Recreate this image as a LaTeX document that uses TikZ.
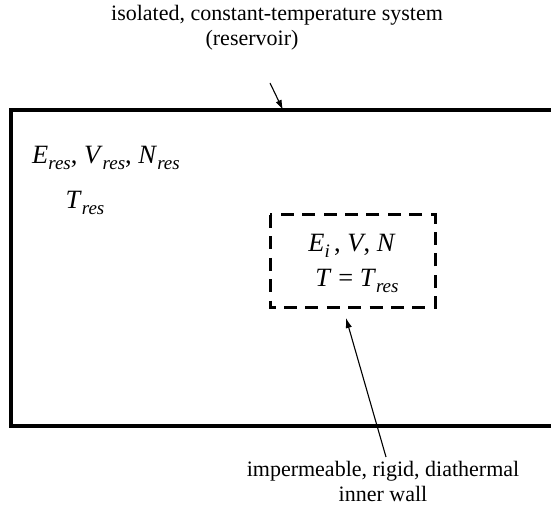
\documentclass[tikz,border=0pt]{standalone}
\usepackage{fontspec}
\setmainfont{Liberation Serif}
\usetikzlibrary{arrows.meta,positioning}
\newcommand{\qty}[2]{\textit{#1}\raisebox{-0.55ex}{\fontsize{9.5}{10}\selectfont\textit{#2}}}

\begin{document}
\begin{tikzpicture}[x=0.5pt, y=-0.5pt, >={Latex[length=5pt,width=3.2pt]}, font=\fontsize{11}{12}\selectfont,
  wall/.style={line width=1.8pt, line join=miter},
  inner/.style={line width=1.5pt, dash pattern=on 6.5pt off 4.2pt},
  lbl/.style={align=center, inner sep=0pt},
  sym/.style={lbl, font=\fontsize{13.2}{14}\selectfont},
  ptr/.style={->, line width=0.55pt}]

  \useasboundingbox (0,0) rectangle (551,506);

  % --- reservoir wall (open to the right) ---
  \coordinate (tr) at (551,110);
  \coordinate (br) at (551,426);
  \draw[wall] (tr) -- (11,110) -- (11,426) -- (br);

  % --- inner system ---
  \draw[inner] (270,215) rectangle (435,308);
  \coordinate (topwall) at (283,110);
  \coordinate (innerwall) at (346,318);

  % --- labels ---
  \node[lbl] (title) at (277,15) {isolated, constant-temperature system};
  \node[lbl] (resv) at (252,40) {(reservoir)};
  \node[sym] (resvars) at (106,158) {\qty{E}{res}, \qty{V}{res}, \qty{N}{res}};
  \node[sym] (restemp) at (85,203) {\qty{T}{res}};
  \node[sym] (sysvars) at (352,246) {\qty{E}{i}\,, \textit{V}, \textit{N}};
  \node[sym] (systemp) at (357,281) {\textit{T} = \qty{T}{res}};
  \node[lbl] (wallname) at (383,471) {impermeable, rigid, diathermal};
  \node[lbl] (wallname2) at (383,494) {inner wall};

  % --- pointers ---
  \coordinate (p1) at (270,83);
  \coordinate (p2) at (386,457);
  \draw[ptr] (p1) -- (topwall);
  \draw[ptr] (p2) -- (innerwall);
\end{tikzpicture}
\end{document}
